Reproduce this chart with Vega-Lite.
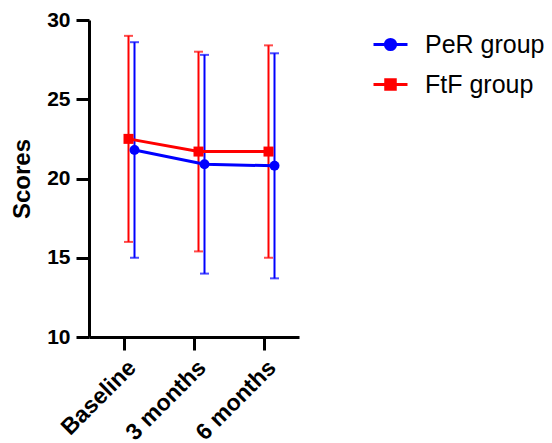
{
  "$schema": "https://vega.github.io/schema/vega-lite/v6.json",
  "width": 210,
  "height": 317,
  "autosize": "none",
  "padding": {"left": 89, "top": 20, "right": 253, "bottom": 106},
  "background": "white",
  "config": {
    "view": {"stroke": null},
    "font": "Liberation Sans",
    "axis": {
      "domainColor": "black", "domainWidth": 3, "tickColor": "black", "tickWidth": 3,
      "tickSize": 13, "labelFont": "Liberation Sans", "labelFontWeight": "bold",
      "labelFontSize": 21, "labelColor": "black", "grid": false,
      "titleFont": "Liberation Sans", "titleFontWeight": "bold", "titleFontSize": 24, "titleColor": "black"
    }
  },
  "data": {
    "values": [
      {"time": "Baseline", "group": "PeR group", "mean": 21.8, "lo": 15.0, "hi": 28.6},
      {"time": "3 months", "group": "PeR group", "mean": 20.9, "lo": 14.0, "hi": 27.8},
      {"time": "6 months", "group": "PeR group", "mean": 20.8, "lo": 13.7, "hi": 27.9},
      {"time": "Baseline", "group": "FtF group", "mean": 22.5, "lo": 16.0, "hi": 29.0},
      {"time": "3 months", "group": "FtF group", "mean": 21.7, "lo": 15.4, "hi": 28.0},
      {"time": "6 months", "group": "FtF group", "mean": 21.7, "lo": 15.0, "hi": 28.4}
    ]
  },
  "encoding": {
    "x": {
      "field": "time", "type": "nominal", "sort": ["Baseline", "3 months", "6 months"],
      "scale": {"type": "point", "padding": 0.5},
      "axis": {"title": null, "labelAngle": -45, "labelPadding": 6, "labelFontSize": 23}
    },
    "xOffset": {
      "field": "group", "type": "nominal",
      "scale": {"type": "point", "domain": ["FtF group", "PeR group"], "range": [4.5, 10.5], "padding": 0}
    },
    "color": {
      "field": "group", "type": "nominal",
      "scale": {"domain": ["PeR group", "FtF group"], "range": ["#0000ff", "#ff0000"]},
      "legend": {
        "title": null, "orient": "none", "legendX": 283, "legendY": 6,
        "labelFontSize": 25, "labelFont": "Liberation Sans", "labelColor": "black",
        "symbolSize": 1156, "rowPadding": 8, "labelOffset": 16, "symbolStrokeWidth": 3,
        "encode": {
          "symbols": {
            "update": {
              "shape": {"signal": "datum.value == 'PeR group' ? 'M-1,0H1M-0.3,0A0.3,0.3 0 1 1 0.3,0A0.3,0.3 0 1 1 -0.3,0Z' : 'M-1,0H1M-0.28,-0.28H0.28V0.28H-0.28Z'"},
              "stroke": {"signal": "datum.value == 'PeR group' ? '#0000ff' : '#ff0000'"},
              "fill": {"signal": "datum.value == 'PeR group' ? '#0000ff' : '#ff0000'"},
              "strokeWidth": {"value": 3},
              "opacity": {"value": 1}
            }
          }
        }
      }
    }
  },
  "layer": [
    {
      "mark": {"type": "rule", "strokeWidth": 2},
      "encoding": {
        "y": {"field": "lo", "type": "quantitative", "scale": {"domain": [10, 30]},
          "axis": {"title": "Scores", "values": [10, 15, 20, 25, 30], "labelPadding": 6, "titlePadding": 12}},
        "y2": {"field": "hi"}
      }
    },
    {
      "mark": {"type": "tick", "thickness": 2, "size": 9},
      "encoding": {"y": {"field": "lo", "type": "quantitative"}}
    },
    {
      "mark": {"type": "tick", "thickness": 2, "size": 9},
      "encoding": {"y": {"field": "hi", "type": "quantitative"}}
    },
    {
      "mark": {"type": "line", "strokeWidth": 3},
      "encoding": {"y": {"field": "mean", "type": "quantitative"}, "detail": {"field": "group"}}
    },
    {
      "transform": [{"filter": "datum.group == 'PeR group'"}],
      "mark": {"type": "point", "shape": "circle", "filled": true, "opacity": 1, "size": 100},
      "encoding": {"y": {"field": "mean", "type": "quantitative"}}
    },
    {
      "transform": [{"filter": "datum.group == 'FtF group'"}],
      "mark": {"type": "point", "shape": "square", "filled": true, "opacity": 1, "size": 100},
      "encoding": {"y": {"field": "mean", "type": "quantitative"}}
    }
  ]
}
